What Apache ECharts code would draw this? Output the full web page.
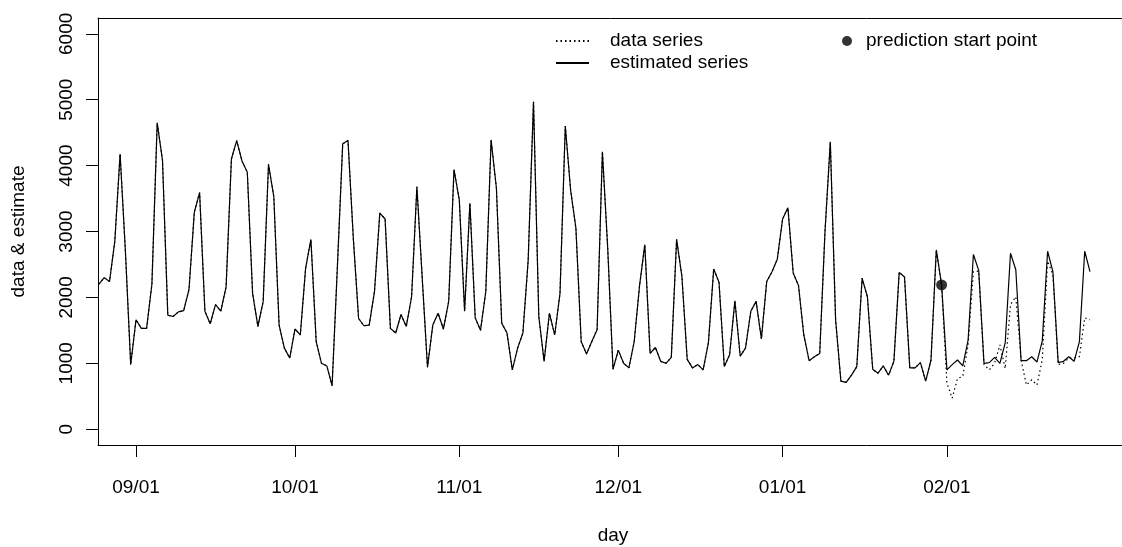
<!DOCTYPE html>
<html>
<head>
<meta charset="utf-8">
<title>data & estimate</title>
<script src="https://cdn.jsdelivr.net/npm/echarts@6/dist/echarts.min.js"></script>
<style>
  html, body { margin: 0; padding: 0; background: #ffffff; }
  #chart { width: 1122px; height: 547px; }
</style>
</head>
<body>
<div id="chart"></div>
<script>
// First day of the series (one value per day)
const startDate = '2014-08-25';

// Values common to the data and the estimate, up to the prediction start
const history = [
  2200, 2300, 2240, 2850, 4175, 2700, 980, 1660, 1530, 1530,
  2200, 4650, 4080, 1730, 1710, 1780, 1800, 2120, 3290, 3590,
  1790, 1600, 1890, 1790, 2160, 4100, 4380, 4070, 3900, 2060,
  1560, 1940, 4020, 3530, 1580, 1230, 1080, 1520, 1430, 2440,
  2880, 1330, 1000, 960, 660, 2470, 4330, 4380, 2900, 1680,
  1570, 1580, 2090, 3280, 3190, 1530, 1460, 1740, 1560, 2010,
  3680, 2300, 940, 1580, 1760, 1520, 1940, 3940, 3480, 1790,
  3430, 1690, 1500, 2090, 4390, 3660, 1610, 1460, 900, 1230,
  1460, 2570, 4970, 1710, 1030, 1760, 1430, 2060, 4600, 3630,
  3050, 1330, 1140, 1330, 1510, 4210, 2750, 910, 1200, 1000,
  930, 1330, 2170, 2800, 1150, 1240, 1030, 1000, 1090, 2880,
  2320, 1060, 930, 980, 900, 1310, 2430, 2230, 950, 1130,
  1950, 1110, 1230, 1790, 1940, 1370, 2240, 2390, 2580, 3190,
  3360, 2370, 2180, 1430, 1040, 1100, 1150, 3000, 4360, 1660,
  730, 710, 820, 950, 2290, 2010, 910, 850, 960, 820,
  1030, 2380, 2310, 930, 930, 1010, 730, 1050, 2720, 2190
];

// After the prediction start: observed data
const observedTail = [
  700, 470, 770, 800, 1280, 2390, 2400, 980, 900, 1000,
  1280, 920, 1890, 2010, 1050, 670, 750, 670, 1060, 2550,
  2350, 980, 1000, 1080, 1080, 1100, 1690, 1660
];

// After the prediction start: estimated values
const estimatedTail = [
  900, 980, 1050, 960, 1350, 2650, 2410, 1000, 1010, 1090,
  1000, 1310, 2670, 2420, 1040, 1040, 1100, 1020, 1340, 2700,
  2390, 1010, 1030, 1100, 1030, 1330, 2700, 2390
];

// Index of the last shared day (prediction start point)
const predictionStartIndex = 159;

// Axis ticks
const xTickDates = ['2014-09-01', '2014-10-01', '2014-11-01', '2014-12-01', '2015-01-01', '2015-02-01'];
const xTickLabels = ['09/01', '10/01', '11/01', '12/01', '01/01', '02/01'];
const yTicks = [0, 1000, 2000, 3000, 4000, 5000, 6000];

const DAY = 86400000;
function toTs(s) {
  const p = s.split('-').map(Number);
  return Date.UTC(p[0], p[1] - 1, p[2]);
}
const t0 = toTs(startDate);
// x positions are day offsets from startDate
const dayOf = (s) => Math.round((toTs(s) - t0) / DAY);

const observed = history.concat(observedTail);
const estimated = history.concat(estimatedTail);
const observedPts = observed.map((v, i) => [i, v]);
const estimatedPts = estimated.map((v, i) => [i, v]);
const startPt = [[predictionStartIndex, history[predictionStartIndex]]];

const xTickDays = xTickDates.map(dayOf);
const labelByDay = {};
xTickDays.forEach((d, i) => { labelByDay[d] = xTickLabels[i]; });

const FONT = "'Liberation Sans', Arial, Helvetica, sans-serif";
const FS = 19;

const chart = echarts.init(document.getElementById('chart'), null, { renderer: 'canvas' });

// plot frame runs past the right edge of the page; only left, bottom and top sides show
const plotLeft = 98, plotWidth = 1030, pxPerDay = 5.30;
const xMin = -0.17;
const xMax = xMin + plotWidth / pxPerDay;

const axisText = { fontFamily: FONT, fontSize: FS, color: '#000' };
const blackLine = { color: '#000', width: 1 };

chart.setOption({
  animation: false,
  backgroundColor: '#ffffff',
  textStyle: { fontFamily: FONT, color: '#000' },
  grid: {
    left: plotLeft, top: 18, width: plotWidth, height: 427,
    show: false, containLabel: false, outerBoundsMode: 'none'
  },
  legend: [
    {
      data: ['data series', 'estimated series'],
      orient: 'vertical',
      left: 555, top: 30, padding: 0,
      itemWidth: 33, itemHeight: 10, itemGap: 0,
      itemStyle: { color: 'transparent', borderWidth: 0 },
      textStyle: Object.assign({ lineHeight: 22, padding: [0, 0, 0, 16] }, axisText),
      selectedMode: false
    },
    {
      data: ['prediction start point'],
      orient: 'vertical',
      left: 842, top: 30, padding: 0,
      icon: 'circle',
      itemWidth: 10, itemHeight: 10,
      textStyle: Object.assign({ lineHeight: 22, padding: [0, 0, 0, 9] }, axisText),
      selectedMode: false
    }
  ],
  xAxis: [
    {
      type: 'value',
      position: 'bottom',
      min: xMin, max: xMax,
      name: 'day',
      nameLocation: 'middle',
      nameGap: 81,
      nameTextStyle: axisText,
      splitLine: { show: false },
      axisLine: { show: true, onZero: false, lineStyle: blackLine },
      axisTick: { show: true, length: 12, customValues: xTickDays, lineStyle: blackLine },
      axisLabel: Object.assign({
        customValues: xTickDays,
        margin: 33,
        formatter: (v) => labelByDay[v] !== undefined ? labelByDay[v] : ''
      }, axisText)
    },
    {
      // top side of the frame
      type: 'value',
      position: 'top',
      min: xMin, max: xMax,
      splitLine: { show: false },
      axisLine: { show: true, onZero: false, lineStyle: blackLine },
      axisTick: { show: false },
      axisLabel: { show: false }
    }
  ],
  yAxis: {
    type: 'value',
    min: -240, max: 6240,
    name: 'data & estimate',
    nameLocation: 'middle',
    nameGap: 70,
    nameRotate: 90,
    nameTextStyle: axisText,
    splitLine: { show: false },
    axisLine: { show: true, onZero: false, lineStyle: blackLine },
    axisTick: { show: true, length: 12, customValues: yTicks, lineStyle: blackLine },
    axisLabel: Object.assign({
      customValues: yTicks,
      rotate: 90,
      margin: 22,
      formatter: (v) => String(v)
    }, axisText)
  },
  series: [
    {
      name: 'data series',
      type: 'line',
      data: observedPts,
      symbol: 'none',
      z: 2,
      lineStyle: { color: '#000', width: 1.2, type: [1.5, 3] },
      itemStyle: { color: '#000' }
    },
    {
      name: 'estimated series',
      type: 'line',
      data: estimatedPts,
      symbol: 'none',
      z: 3,
      lineStyle: { color: '#000', width: 1.2, type: 'solid' },
      itemStyle: { color: '#000' }
    },
    {
      name: 'prediction start point',
      type: 'scatter',
      data: startPt,
      symbol: 'circle',
      symbolSize: 11,
      z: 4,
      itemStyle: { color: '#000' }
    }
  ]
});
</script>
</body>
</html>
